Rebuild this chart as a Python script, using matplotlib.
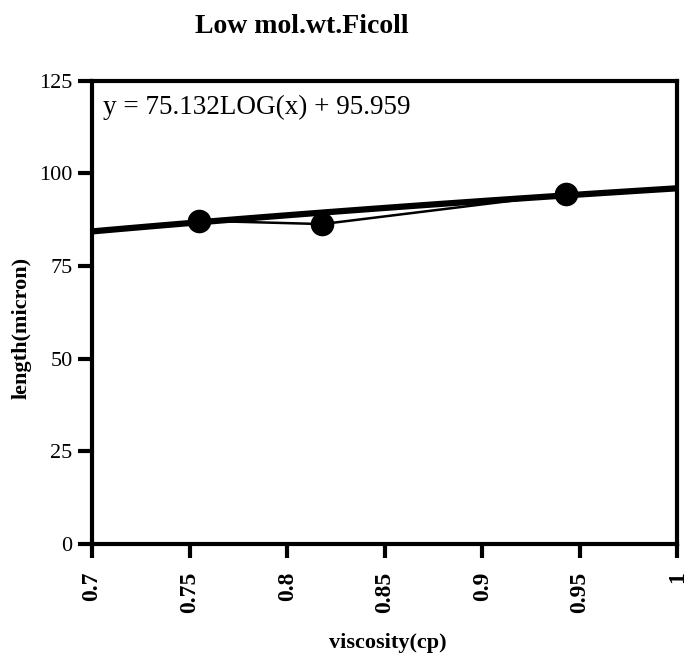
import numpy as np
import matplotlib.pyplot as plt

viscosity = [0.755, 0.818, 0.943]
length = [87.2, 86.3, 94.4]

# log trend line coefficients shown on the chart
slope, intercept = 75.132, 95.959

xticks = [0.7, 0.75, 0.8, 0.85, 0.9, 0.95, 1]
xtick_labels = ['0.7', '0.75', '0.8', '0.85', '0.9', '0.95', '1']
yticks = [0, 25, 50, 75, 100, 125]

plt.rcParams['font.family'] = ['Liberation Serif', 'DejaVu Serif']

fig = plt.figure(figsize=(6.87, 6.56), dpi=100)
ax = fig.add_axes([0.134, 0.171, 0.852, 0.706])

xt = np.linspace(0.7, 1.0, 100)
ax.plot(xt, slope * np.log10(xt) + intercept, color='black', lw=4.5, zorder=2)
ax.plot(viscosity, length, color='black', lw=1.8, marker='o', ms=16,
        mfc='black', mec='black', zorder=3)

ax.set_xlim(0.7, 1.0)
ax.set_ylim(0, 125)
ax.set_xticks(xticks)
ax.set_xticklabels(xtick_labels, rotation=90, fontweight='bold', fontsize=17)
ax.set_yticks(yticks)
ax.set_yticklabels([str(v) for v in yticks], fontsize=16)
ax.tick_params(axis='both', direction='out', length=10, width=3)
ax.tick_params(axis='x', pad=10)
ax.tick_params(axis='y', pad=4)
for s in ax.spines.values():
    s.set_linewidth(3)

ax.text(0.018, 0.97, 'y = 75.132LOG(x) + 95.959', transform=ax.transAxes,
        ha='left', va='top', fontsize=19.5)

fig.text(0.44, 0.96, 'Low mol.wt.Ficoll', ha='center', va='center',
         fontsize=20, fontweight='bold')
fig.text(0.565, 0.02, 'viscosity(cp)', ha='center', va='center',
         fontsize=16, fontweight='bold')
fig.text(0.032, 0.5, 'length(micron)', ha='center', va='center',
         rotation=90, fontsize=16, fontweight='bold')

fig.savefig('out.png', dpi=100)
